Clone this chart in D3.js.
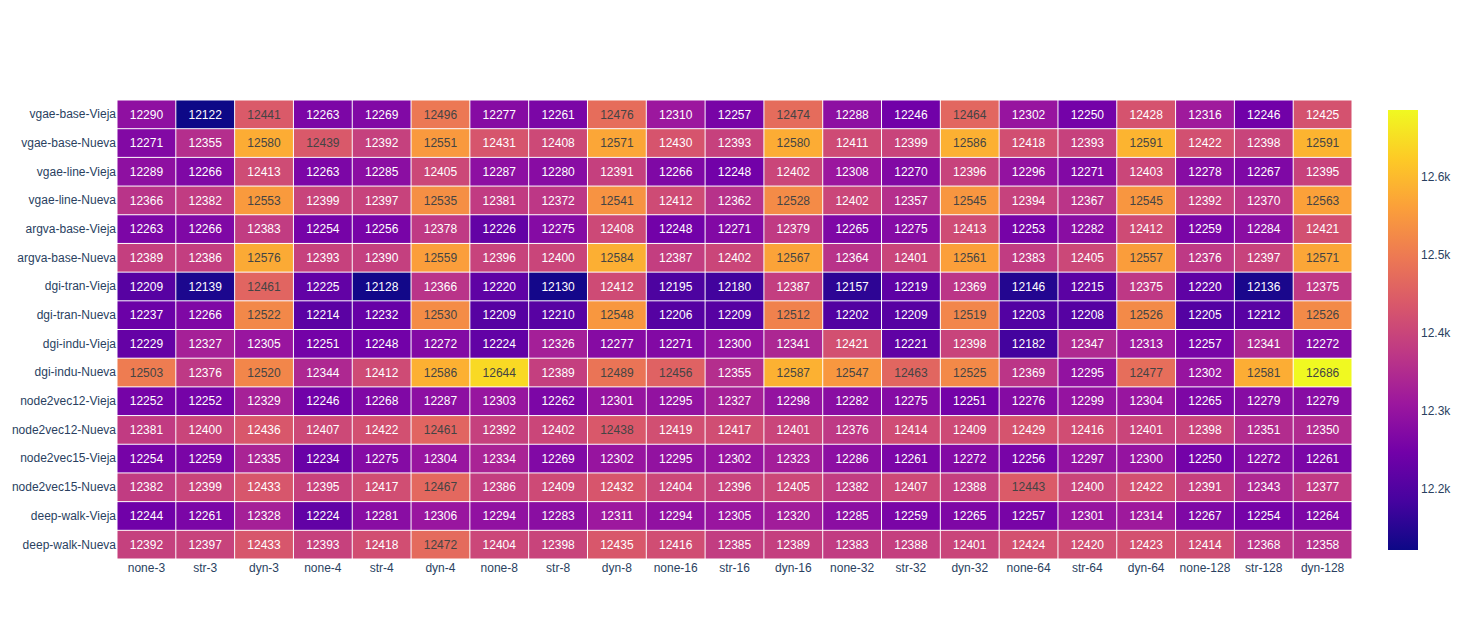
<!DOCTYPE html>
<html>
<head>
<meta charset="utf-8">
<script src="https://cdn.jsdelivr.net/npm/d3@7"></script>
<style>
  html, body { margin: 0; padding: 0; background: #fff; }
  svg { display: block; }
</style>
</head>
<body>
<svg id="chart" width="1470" height="640"></svg>
<script>
const rowLabels = ["vgae-base-Vieja","vgae-base-Nueva","vgae-line-Vieja","vgae-line-Nueva",
  "argva-base-Vieja","argva-base-Nueva","dgi-tran-Vieja","dgi-tran-Nueva",
  "dgi-indu-Vieja","dgi-indu-Nueva","node2vec12-Vieja","node2vec12-Nueva",
  "node2vec15-Vieja","node2vec15-Nueva","deep-walk-Vieja","deep-walk-Nueva"];

const colLabels = ["none-3","str-3","dyn-3","none-4","str-4","dyn-4","none-8","str-8","dyn-8",
  "none-16","str-16","dyn-16","none-32","str-32","dyn-32","none-64","str-64","dyn-64",
  "none-128","str-128","dyn-128"];

const values = [
  [12290,12122,12441,12263,12269,12496,12277,12261,12476,12310,12257,12474,12288,12246,12464,12302,12250,12428,12316,12246,12425],
  [12271,12355,12580,12439,12392,12551,12431,12408,12571,12430,12393,12580,12411,12399,12586,12418,12393,12591,12422,12398,12591],
  [12289,12266,12413,12263,12285,12405,12287,12280,12391,12266,12248,12402,12308,12270,12396,12296,12271,12403,12278,12267,12395],
  [12366,12382,12553,12399,12397,12535,12381,12372,12541,12412,12362,12528,12402,12357,12545,12394,12367,12545,12392,12370,12563],
  [12263,12266,12383,12254,12256,12378,12226,12275,12408,12248,12271,12379,12265,12275,12413,12253,12282,12412,12259,12284,12421],
  [12389,12386,12576,12393,12390,12559,12396,12400,12584,12387,12402,12567,12364,12401,12561,12383,12405,12557,12376,12397,12571],
  [12209,12139,12461,12225,12128,12366,12220,12130,12412,12195,12180,12387,12157,12219,12369,12146,12215,12375,12220,12136,12375],
  [12237,12266,12522,12214,12232,12530,12209,12210,12548,12206,12209,12512,12202,12209,12519,12203,12208,12526,12205,12212,12526],
  [12229,12327,12305,12251,12248,12272,12224,12326,12277,12271,12300,12341,12421,12221,12398,12182,12347,12313,12257,12341,12272],
  [12503,12376,12520,12344,12412,12586,12644,12389,12489,12456,12355,12587,12547,12463,12525,12369,12295,12477,12302,12581,12686],
  [12252,12252,12329,12246,12268,12287,12303,12262,12301,12295,12327,12298,12282,12275,12251,12276,12299,12304,12265,12279,12279],
  [12381,12400,12436,12407,12422,12461,12392,12402,12438,12419,12417,12401,12376,12414,12409,12429,12416,12401,12398,12351,12350],
  [12254,12259,12335,12234,12275,12304,12334,12269,12302,12295,12302,12323,12286,12261,12272,12256,12297,12300,12250,12272,12261],
  [12382,12399,12433,12395,12417,12467,12386,12409,12432,12404,12396,12405,12382,12407,12388,12443,12400,12422,12391,12343,12377],
  [12244,12261,12328,12224,12281,12306,12294,12283,12311,12294,12305,12320,12285,12259,12265,12257,12301,12314,12267,12254,12264],
  [12392,12397,12433,12393,12418,12472,12404,12398,12435,12416,12385,12389,12383,12388,12401,12424,12420,12423,12414,12368,12358]
];

const colorbarTicks = [12200, 12300, 12400, 12500, 12600];
const plasmaStops = ["#0d0887","#46039f","#7201a8","#9c179e","#bd3786","#d8576b","#ed7953","#fb9f3a","#fdca26","#f0f921"];

const svg = d3.select("#chart");
const plot = { left: 117, top: 100, right: 1352, bottom: 559 };
const font = "'Liberation Sans', Arial, sans-serif";
const axisColor = "#2a3f5f";

const allVals = values.flat();
const vmin = d3.min(allVals), vmax = d3.max(allVals);

const x = d3.scaleBand().domain(colLabels).range([plot.left, plot.right]).paddingInner(0).paddingOuter(0);
const y = d3.scaleBand().domain(rowLabels).range([plot.top, plot.bottom]);

const stopDomain = plasmaStops.map((_, i) => vmin + (vmax - vmin) * i / (plasmaStops.length - 1));
const color = d3.scaleLinear().domain(stopDomain).range(plasmaStops).interpolate(d3.interpolateRgb).clamp(true);

function textColor(c) {
  const rgb = d3.rgb(c);
  const b = (rgb.r * 299 + rgb.g * 587 + rgb.b * 114) / 1000;
  return b >= 128 ? "#444" : "#ffffff";
}

const cells = [];
values.forEach((row, i) => row.forEach((v, j) => cells.push({ r: rowLabels[i], c: colLabels[j], v })));

const gap = 1;
const g = svg.append("g");
g.selectAll("rect.cell").data(cells).enter().append("rect")
  .attr("class", "cell")
  .attr("x", d => x(d.c) + gap / 2)
  .attr("y", d => y(d.r) + gap / 2)
  .attr("width", x.bandwidth() - gap)
  .attr("height", y.bandwidth() - gap)
  .attr("fill", d => color(d.v));

g.selectAll("text.val").data(cells).enter().append("text")
  .attr("class", "val")
  .attr("x", d => x(d.c) + x.bandwidth() / 2)
  .attr("y", d => y(d.r) + y.bandwidth() / 2)
  .attr("dy", "0.35em")
  .attr("text-anchor", "middle")
  .attr("font-family", font)
  .attr("font-size", 12)
  .attr("fill", d => textColor(color(d.v)))
  .text(d => d.v);

// Y axis labels
const yAxis = d3.axisLeft(y).tickSize(0).tickPadding(1);
const yg = svg.append("g").attr("transform", `translate(${plot.left},0)`).call(yAxis);
yg.select(".domain").remove();
yg.selectAll("text").attr("font-family", font).attr("font-size", 12).attr("fill", axisColor);

// X axis labels
const xAxis = d3.axisBottom(x).tickSize(0).tickPadding(4);
const xg = svg.append("g").attr("transform", `translate(0,${plot.bottom})`).call(xAxis);
xg.select(".domain").remove();
xg.selectAll("text").attr("font-family", font).attr("font-size", 12).attr("fill", axisColor);

// Colorbar
const cb = { x: 1388, w: 30, top: 110, bottom: 550 };
const defs = svg.append("defs");
const grad = defs.append("linearGradient").attr("id", "cbgrad")
  .attr("x1", "0").attr("y1", "1").attr("x2", "0").attr("y2", "0");
plasmaStops.forEach((c, i) => {
  grad.append("stop").attr("offset", (i / (plasmaStops.length - 1) * 100) + "%").attr("stop-color", c);
});
svg.append("rect").attr("x", cb.x).attr("y", cb.top).attr("width", cb.w).attr("height", cb.bottom - cb.top)
  .attr("fill", "url(#cbgrad)");

const cbScale = d3.scaleLinear().domain([vmin, vmax]).range([cb.bottom, cb.top]);
const cbAxis = d3.axisRight(cbScale).tickValues(colorbarTicks).tickSize(0).tickPadding(3)
  .tickFormat(d => (d / 1000).toFixed(1) + "k");
const cbg = svg.append("g").attr("transform", `translate(${cb.x + cb.w},0)`).call(cbAxis);
cbg.select(".domain").remove();
cbg.selectAll("text").attr("font-family", font).attr("font-size", 12).attr("fill", axisColor);
</script>
</body>
</html>
